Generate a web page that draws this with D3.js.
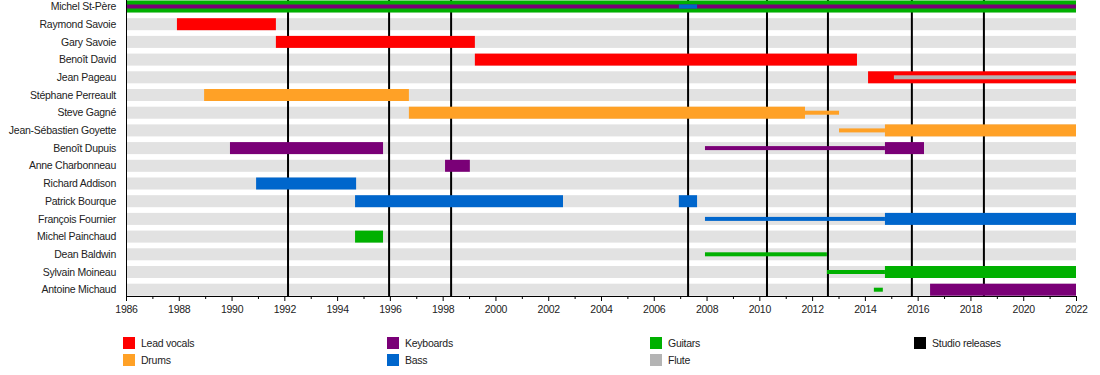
<!DOCTYPE html>
<html lang="en">
  <head>
    <meta charset="UTF-8" />
    <title>Member timeline</title>
    <script src="https://d3js.org/d3.v7.min.js"></script>
    <style>
      body {
        margin: 0;
        padding: 0;
        background: #fff;
        font-family: "Liberation Sans", Arial, sans-serif;
      }
      svg text {
        font-size: 10.5px;
        fill: #222;
        letter-spacing: -0.25px;
      }
    </style>
  </head>
  <body>
    <svg id="chart" width="1100" height="375"></svg>
    <script>
      // Members, top to bottom
      var members = [
        "Michel St-Père", "Raymond Savoie", "Gary Savoie", "Benoît David",
        "Jean Pageau", "Stéphane Perreault", "Steve Gagné", "Jean-Sébastien Goyette",
        "Benoît Dupuis", "Anne Charbonneau", "Richard Addison", "Patrick Bourque",
        "François Fournier", "Michel Painchaud", "Dean Baldwin", "Sylvain Moineau",
        "Antoine Michaud"
      ];

      // Roles and their colours (legend order)
      var roles = ["Lead vocals", "Drums", "Keyboards", "Bass", "Guitars", "Flute", "Studio releases"];
      var roleColors = ["#ff0000", "#ffa126", "#7a0077", "#0066cc", "#00b000", "#b4b4b4", "#000000"];

      // Periods: [member, role, from, till, thin?]
      var periods = [
        ["Michel St-Père", "Guitars", 1986, 2022, false],
        ["Michel St-Père", "Keyboards", 1986, 2022, true],
        ["Michel St-Père", "Bass", 2006.95, 2007.64, true],
        ["Raymond Savoie", "Lead vocals", 1987.93, 1991.68, false],
        ["Gary Savoie", "Lead vocals", 1991.68, 1999.22, false],
        ["Benoît David", "Lead vocals", 1999.22, 2013.7, false],
        ["Jean Pageau", "Lead vocals", 2014.12, 2022, false],
        ["Jean Pageau", "Flute", 2015.1, 2022, true],
        ["Stéphane Perreault", "Drums", 1988.96, 1996.72, false],
        ["Steve Gagné", "Drums", 1996.72, 2011.73, false],
        ["Steve Gagné", "Drums", 2011.73, 2013.02, true],
        ["Jean-Sébastien Goyette", "Drums", 2013.02, 2014.76, true],
        ["Jean-Sébastien Goyette", "Drums", 2014.76, 2022, false],
        ["Benoît Dupuis", "Keyboards", 1989.94, 1995.74, false],
        ["Benoît Dupuis", "Keyboards", 2007.94, 2014.76, true],
        ["Benoît Dupuis", "Keyboards", 2014.76, 2016.24, false],
        ["Anne Charbonneau", "Keyboards", 1998.09, 1999.03, false],
        ["Richard Addison", "Bass", 1990.93, 1994.72, false],
        ["Patrick Bourque", "Bass", 1994.68, 2002.56, false],
        ["Patrick Bourque", "Bass", 2006.95, 2007.64, false],
        ["François Fournier", "Bass", 2007.94, 2014.76, true],
        ["François Fournier", "Bass", 2014.76, 2022, false],
        ["Michel Painchaud", "Guitars", 1994.68, 1995.74, false],
        ["Dean Baldwin", "Guitars", 2007.94, 2012.56, true],
        ["Sylvain Moineau", "Guitars", 2012.56, 2014.76, true],
        ["Sylvain Moineau", "Guitars", 2014.76, 2022, false],
        ["Antoine Michaud", "Guitars", 2014.34, 2014.68, true],
        ["Antoine Michaud", "Keyboards", 2016.47, 2022, false]
      ];

      // Studio album release dates
      var releases = [1992.14, 1995.97, 1998.32, 2007.3, 2010.29, 2012.6, 2015.78, 2018.51];

      var svg = d3.select("#chart");
      var left = 126, right = 1076, axisY = 296;

      var x = d3.scaleLinear().domain([1986, 2022]).range([left, right]);
      var y = d3.scalePoint().domain(members).range([6.5, 289.7]);
      var color = d3.scaleOrdinal().domain(roles).range(roleColors);

      // Grey row backgrounds
      svg.append("g")
        .selectAll("rect")
        .data(members)
        .join("rect")
        .attr("x", x(1986))
        .attr("width", x(2022) - x(1986))
        .attr("y", function (d) { return y(d) - 6; })
        .attr("height", 12)
        .attr("fill", "#e2e2e2");

      // Release lines
      svg.append("g")
        .selectAll("line")
        .data(releases)
        .join("line")
        .attr("x1", function (d) { return x(d); })
        .attr("x2", function (d) { return x(d); })
        .attr("y1", 0)
        .attr("y2", axisY)
        .attr("stroke", color("Studio releases"))
        .attr("stroke-width", 2);

      // Member bars
      svg.append("g")
        .selectAll("rect")
        .data(periods)
        .join("rect")
        .attr("x", function (d) { return x(d[2]); })
        .attr("width", function (d) { return x(d[3]) - x(d[2]); })
        .attr("y", function (d) { return y(d[0]) - (d[4] ? 2 : 6); })
        .attr("height", function (d) { return d[4] ? 4 : 12; })
        .attr("fill", function (d) { return color(d[1]); });

      // Member names
      svg.append("g")
        .selectAll("text")
        .data(members)
        .join("text")
        .attr("x", 116)
        .attr("y", function (d) { return y(d); })
        .attr("dy", "0.35em")
        .attr("text-anchor", "end")
        .text(function (d) { return d; });

      // Left edge
      svg.append("line")
        .attr("x1", left + 0.5).attr("x2", left + 0.5)
        .attr("y1", 0).attr("y2", axisY)
        .attr("stroke", "#000");

      // Time axis: minor ticks every year, labels every two
      var axis = svg.append("g").attr("transform", "translate(0," + axisY + ")");
      axis.call(
        d3.axisBottom(x)
          .tickValues(d3.range(1986, 2023, 2))
          .tickFormat(d3.format("d"))
          .tickSize(5)
          .tickSizeOuter(0)
      );
      axis.selectAll(".tick text").attr("dy", "0.9em").attr("fill", "#222")
        .style("font-size", "10.5px").style("font-family", "Liberation Sans, Arial, sans-serif");
      axis.select(".domain").attr("stroke", "#000");
      axis.selectAll("line.minor")
        .data(d3.range(1987, 2022, 2))
        .join("line")
        .attr("class", "minor")
        .attr("x1", function (d) { return x(d) + 0.5; })
        .attr("x2", function (d) { return x(d) + 0.5; })
        .attr("y1", 0)
        .attr("y2", 3)
        .attr("stroke", "#000");

      // Legend
      var legendPos = [
        [123, 337], [123, 354], [387, 337], [387, 354],
        [650, 337], [650, 354], [914, 337]
      ];
      var legend = svg.append("g")
        .selectAll("g")
        .data(roles)
        .join("g")
        .attr("transform", function (d, i) {
          return "translate(" + legendPos[i][0] + "," + legendPos[i][1] + ")";
        });
      legend.append("rect")
        .attr("width", 12)
        .attr("height", 12)
        .attr("fill", function (d) { return color(d); });
      legend.append("text")
        .attr("x", 18)
        .attr("y", 6)
        .attr("dy", "0.35em")
        .text(function (d) { return d; });
    </script>
  </body>
</html>
